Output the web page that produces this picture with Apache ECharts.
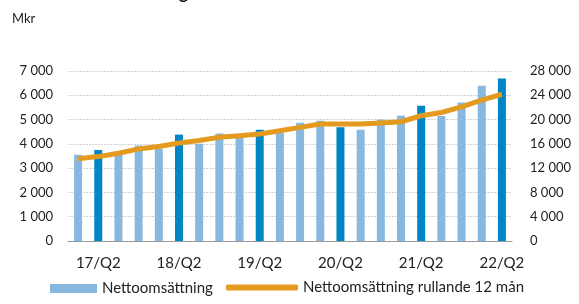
<!DOCTYPE html>
<html lang="sv">
<head>
    <meta charset="UTF-8">
    <title>Nettoomsättning</title>
    <script src="https://cdn.jsdelivr.net/npm/echarts@6/dist/echarts.min.js"></script>
    <style>
        html, body { margin: 0; padding: 0; background: #fff; }
        #chart { width: 579px; height: 304px; }
    </style>
</head>
<body>
<div id="chart"></div>
<script>
    // kvartal 17/Q1 .. 22/Q2
    var quarters = ['17/Q1','17/Q2','17/Q3','17/Q4','18/Q1','18/Q2','18/Q3','18/Q4',
        '19/Q1','19/Q2','19/Q3','19/Q4','20/Q1','20/Q2','20/Q3','20/Q4',
        '21/Q1','21/Q2','21/Q3','21/Q4','22/Q1','22/Q2'];
    var leftTicks = [0, 1000, 2000, 3000, 4000, 5000, 6000, 7000];
    var rightTicks = [0, 4000, 8000, 12000, 16000, 20000, 24000, 28000];
    // Nettoomsättning per kvartal, Mkr
    var sales = [3550, 3750, 3550, 3930, 3800, 4380, 4000, 4430, 4250, 4580, 4450,
        4870, 4950, 4680, 4580, 5000, 5160, 5570, 5150, 5700, 6390, 6690];
    // rullande 12 mån, Mkr
    var rolling = [13530, 13900, 14460, 15170, 15560, 16150, 16540, 17080, 17350, 17620, 18170,
        18720, 19260, 19260, 19260, 19430, 19640, 20630, 21170, 22100, 23190, 24170];

    var font = 'Lato';
    var lightBlue = '#88b8df', darkBlue = '#0086c4', orange = '#e39a1e';
    var chart = echarts.init(document.getElementById('chart'));

    // Q2-staplarna är mörkare
    var barData = [];
    for (var i = 0; i < sales.length; i++) {
        var q2 = quarters[i].indexOf('Q2') > 0;
        barData.push({ value: sales[i], itemStyle: { color: q2 ? darkBlue : lightBlue } });
    }

    var fmt = function (v) { return String(v).replace(/\B(?=(\d{3})+(?!\d))/g, ' '); };
    var legendText = { fontFamily: font, fontSize: 15, color: '#222' };

    var option = {
        animation: false,
        textStyle: { fontFamily: font },
        title: {
            text: 'Nettoomsättning',
            left: 55, top: -20,
            textStyle: { fontFamily: font, fontSize: 17, fontWeight: 'bold', color: '#000' }
        },
        graphic: [{
            type: 'text', left: 12, top: 12,
            style: { text: 'Mkr', font: '13px Lato', fill: '#222' }
        }],
        legend: [{
            left: 45, bottom: 3,
            itemWidth: 47, itemHeight: 9,
            textStyle: legendText,
            data: [{ name: 'Nettoomsättning', icon: 'rect', itemStyle: { color: lightBlue } }]
        }, {
            left: 221, bottom: 4,
            itemWidth: 72, itemHeight: 6,
            textStyle: legendText,
            data: [{ name: 'Nettoomsättning rullande 12 mån', icon: 'roundRect' }]
        }],
        grid: { left: 68, right: 67, top: 71, bottom: 63 },
        xAxis: {
            type: 'category',
            data: quarters,
            axisLine: { lineStyle: { color: '#999' } },
            axisTick: { show: false },
            axisLabel: {
                interval: function (i) { return i % 4 === 1; },
                color: '#222', fontSize: 15, margin: 15
            }
        },
        yAxis: [{
            type: 'value', min: leftTicks[0], max: leftTicks[leftTicks.length - 1], interval: 1000,
            axisLabel: { formatter: fmt, color: '#222', fontSize: 13, margin: 15 },
            splitLine: { lineStyle: { color: '#d2d2d2', type: [2, 1] } },
            axisLine: { show: false }, axisTick: { show: false }
        }, {
            type: 'value', min: rightTicks[0], max: rightTicks[rightTicks.length - 1], interval: 4000,
            axisLabel: { formatter: fmt, color: '#222', fontSize: 13, margin: 18 },
            splitLine: { show: false },
            axisLine: { show: false }, axisTick: { show: false }
        }],
        series: [{
            name: 'Nettoomsättning',
            type: 'bar',
            barWidth: 8,
            itemStyle: { color: lightBlue },
            data: barData
        }, {
            name: 'Nettoomsättning rullande 12 mån',
            type: 'line',
            yAxisIndex: 1,
            symbol: 'none',
            lineStyle: { color: orange, width: 5 },
            itemStyle: { color: orange },
            data: rolling
        }]
    };
    chart.setOption(option);
</script>
</body>
</html>
